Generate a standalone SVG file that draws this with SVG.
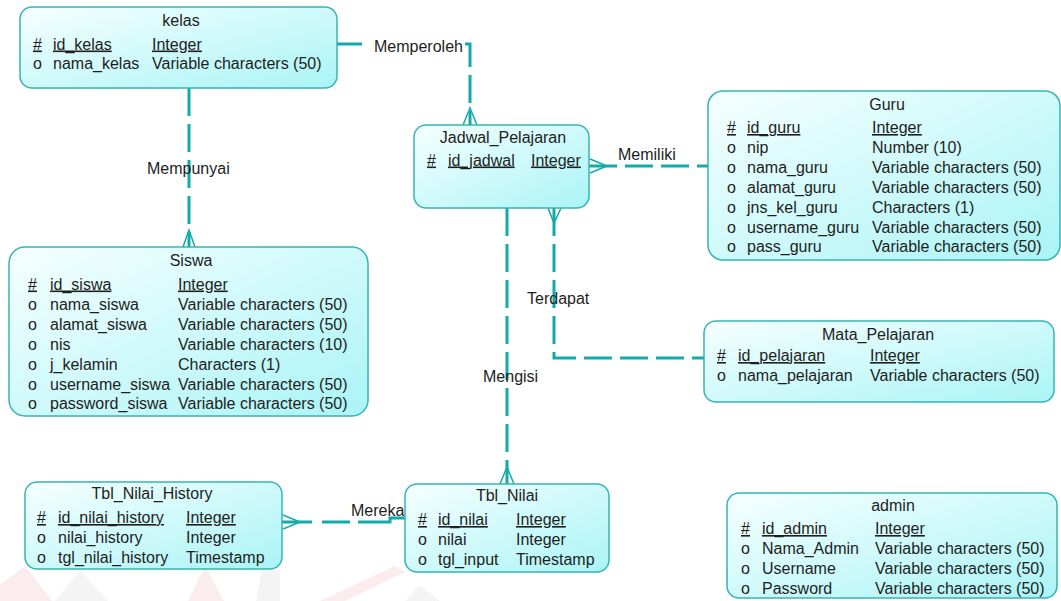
<svg xmlns="http://www.w3.org/2000/svg" width="1061" height="601" viewBox="0 0 1061 601">
<defs>
<linearGradient id="g" x1="0" y1="0" x2="1" y2="1">
<stop offset="0" stop-color="#f6ffff"/>
<stop offset="1" stop-color="#aaf4f6"/>
</linearGradient>
<style>
.box{fill:url(#g);stroke:#36b4b4;stroke-width:1.5}
text{font-family:"Liberation Sans",Arial,sans-serif;font-size:16px;fill:#1e1e1e}
.t{text-anchor:middle}
.u{text-decoration:underline}
.ln{fill:none;stroke:#12aaaa;stroke-width:3;stroke-dasharray:28 8}
.cf{fill:none;stroke:#12aaaa;stroke-width:1.5}
.wm{opacity:0.08}
</style>
</defs>
<rect width="1061" height="601" fill="#ffffff"/>
<g id="watermark" class="wm">
<polygon points="0,601 0,585 25,566 52,601" fill="#d02030"/>
<polygon points="55,601 80,570 108,601" fill="#808080"/>
<polygon points="188,601 205,566 224,601" fill="#d02030"/>
<polygon points="256,601 262,570 280,570 280,601" fill="#808080"/>
<polygon points="320,601 395,566 405,572 345,601" fill="#d02030"/>
<polygon points="405,601 420,585 440,601" fill="#808080"/>
</g>
<g id="connectors">
<path class="ln" d="M337,44 H362"/>
<path class="ln" d="M465,44 H470 V125"/>
<path class="cf" d="M463,125 L470,108 L477,125"/>
<text x="374" y="52">Memperoleh</text>
<path class="ln" d="M189,88 V247"/>
<path class="cf" d="M183,247 L189,230 L195,247"/>
<text x="147" y="174">Mempunyai</text>
<path class="ln" d="M589,166 H708"/>
<path class="cf" d="M590,159 L607,166 L590,173"/>
<text x="618" y="160">Memiliki</text>
<path class="ln" d="M554,208 V358 H704"/>
<path class="cf" d="M548,208 L554,223 L561,208"/>
<text x="527" y="304">Terdapat</text>
<path class="ln" d="M507,208 V484"/>
<path class="cf" d="M500,484 L507,467 L514,484"/>
<text x="483" y="382">Mengisi</text>
<path class="ln" d="M282,522 H390 V518 H405" style="stroke-dasharray:none"/>
<path d="M312,522 H322 M350,522 H358" stroke="#ffffff" stroke-width="4"/>
<path class="cf" d="M283,515 L300,522 L283,529"/>
<text x="351" y="516">Mereka</text>
</g>
<g id="kelas">
<rect class="box" x="20" y="7" width="317" height="81" rx="12"/>
<text class="t" x="181" y="26">kelas</text>
<text class="u" x="33" y="49.5">#</text><text class="u" x="53" y="49.5">id_kelas</text><text class="u" x="152" y="49.5">Integer</text>
<text x="33" y="69">o</text><text x="53" y="69">nama_kelas</text><text x="152" y="69">Variable characters (50)</text>
</g>
<g id="jadwal_pelajaran">
<rect class="box" x="414" y="125" width="175" height="83" rx="12"/>
<text class="t" x="503" y="143">Jadwal_Pelajaran</text>
<text class="u" x="427" y="165.5">#</text><text class="u" x="448" y="165.5">id_jadwal</text><text class="u" x="531" y="165.5">Integer</text>
</g>
<g id="guru">
<rect class="box" x="708" y="91" width="352" height="169" rx="15"/>
<text class="t" x="887" y="110">Guru</text>
<text class="u" x="727" y="133">#</text><text class="u" x="747" y="133">id_guru</text><text class="u" x="872" y="133">Integer</text>
<text x="727" y="153">o</text><text x="747" y="153">nip</text><text x="872" y="153">Number (10)</text>
<text x="727" y="173">o</text><text x="747" y="173">nama_guru</text><text x="872" y="173">Variable characters (50)</text>
<text x="727" y="193">o</text><text x="747" y="193">alamat_guru</text><text x="872" y="193">Variable characters (50)</text>
<text x="727" y="212.5">o</text><text x="747" y="212.5">jns_kel_guru</text><text x="872" y="212.5">Characters (1)</text>
<text x="727" y="232.5">o</text><text x="747" y="232.5">username_guru</text><text x="872" y="232.5">Variable characters (50)</text>
<text x="727" y="252">o</text><text x="747" y="252">pass_guru</text><text x="872" y="252">Variable characters (50)</text>
</g>
<g id="siswa">
<rect class="box" x="9" y="247" width="359" height="169" rx="16"/>
<text class="t" x="191" y="266">Siswa</text>
<text class="u" x="28" y="289.5">#</text><text class="u" x="50" y="289.5">id_siswa</text><text class="u" x="178" y="289.5">Integer</text>
<text x="28" y="309.5">o</text><text x="50" y="309.5">nama_siswa</text><text x="178" y="309.5">Variable characters (50)</text>
<text x="28" y="329.5">o</text><text x="50" y="329.5">alamat_siswa</text><text x="178" y="329.5">Variable characters (50)</text>
<text x="28" y="349.5">o</text><text x="50" y="349.5">nis</text><text x="178" y="349.5">Variable characters (10)</text>
<text x="28" y="369.5">o</text><text x="50" y="369.5">j_kelamin</text><text x="178" y="369.5">Characters (1)</text>
<text x="28" y="389.5">o</text><text x="50" y="389.5">username_siswa</text><text x="178" y="389.5">Variable characters (50)</text>
<text x="28" y="409">o</text><text x="50" y="409">password_siswa</text><text x="178" y="409">Variable characters (50)</text>
</g>
<g id="mata_pelajaran">
<rect class="box" x="704" y="321" width="350" height="81" rx="12"/>
<text class="t" x="878" y="340">Mata_Pelajaran</text>
<text class="u" x="717" y="361">#</text><text class="u" x="738" y="361">id_pelajaran</text><text class="u" x="870" y="361">Integer</text>
<text x="717" y="381">o</text><text x="738" y="381">nama_pelajaran</text><text x="870" y="381">Variable characters (50)</text>
</g>
<g id="tbl_nilai_history">
<rect class="box" x="25" y="482" width="257" height="87" rx="12"/>
<text class="t" x="152" y="499">Tbl_Nilai_History</text>
<text class="u" x="37" y="523">#</text><text class="u" x="58" y="523">id_nilai_history</text><text class="u" x="186" y="523">Integer</text>
<text x="37" y="543">o</text><text x="58" y="543">nilai_history</text><text x="186" y="543">Integer</text>
<text x="37" y="563">o</text><text x="58" y="563">tgl_nilai_history</text><text x="186" y="563">Timestamp</text>
</g>
<g id="tbl_nilai">
<rect class="box" x="405" y="484" width="204" height="88" rx="12"/>
<text class="t" x="507" y="501">Tbl_Nilai</text>
<text class="u" x="418" y="525">#</text><text class="u" x="438" y="525">id_nilai</text><text class="u" x="516" y="525">Integer</text>
<text x="418" y="545">o</text><text x="438" y="545">nilai</text><text x="516" y="545">Integer</text>
<text x="418" y="565">o</text><text x="438" y="565">tgl_input</text><text x="516" y="565">Timestamp</text>
</g>
<g id="admin">
<rect class="box" x="727" y="493" width="330" height="105" rx="12"/>
<text class="t" x="893" y="511">admin</text>
<text class="u" x="741" y="534">#</text><text class="u" x="762" y="534">id_admin</text><text class="u" x="875" y="534">Integer</text>
<text x="741" y="554">o</text><text x="762" y="554">Nama_Admin</text><text x="875" y="554">Variable characters (50)</text>
<text x="741" y="574">o</text><text x="762" y="574">Username</text><text x="875" y="574">Variable characters (50)</text>
<text x="741" y="594">o</text><text x="762" y="594">Password</text><text x="875" y="594">Variable characters (50)</text>
</g>
</svg>
